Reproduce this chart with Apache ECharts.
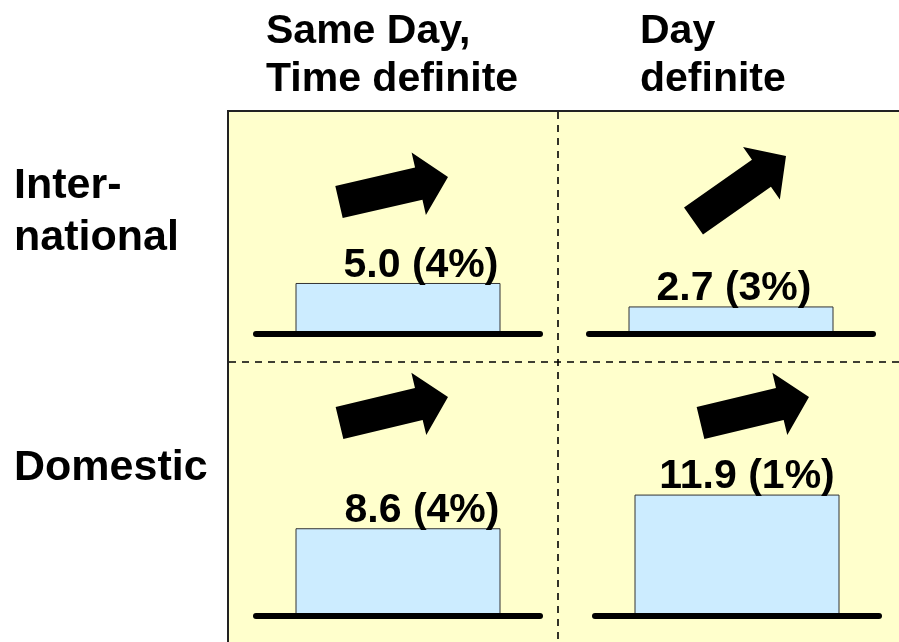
<!DOCTYPE html>
<html>
<head>
<meta charset="utf-8">
<script src="https://cdn.jsdelivr.net/npm/echarts@6/dist/echarts.min.js"></script>
<style>
html,body{margin:0;padding:0;background:#fff;}
#chart{width:899px;height:642px;}
</style>
</head>
<body>
<div id="chart"></div>
<script>
// ---- data ----
const columnLabels = ['Same Day,\nTime definite', 'Day\ndefinite'];
const rowLabels = ['Inter-\nnational', 'Domestic'];
const internationalVolume = [5.0, 2.7];
const internationalGrowth = ['4%', '3%'];
const domesticVolume = [8.6, 11.9];
const domesticGrowth = ['4%', '1%'];

// ---- layout ----
const FONT = '"Liberation Sans", Arial, sans-serif';
const FS = 41;
const ROW_FS = 43;
const YMAX = 19.6;
const GRID_H = 200;
const cells = [
  {row: 0, col: 0, left: 256, width: 284, base: 334, labelDx: 23},
  {row: 0, col: 1, left: 589, width: 284, base: 334, labelDx: 3},
  {row: 1, col: 0, left: 256, width: 284, base: 616, labelDx: 24},
  {row: 1, col: 1, left: 595, width: 284, base: 616, labelDx: 10}
];
const arrows = [
  {x: 339, y: 202, tx: 448, ty: 177},
  {x: 693.5, y: 221, tx: 786, ty: 156},
  {x: 339.5, y: 423, tx: 448, ty: 397},
  {x: 700.5, y: 423, tx: 809, ty: 397}
];

const volumes = [internationalVolume, domesticVolume];
const growths = [internationalGrowth, domesticGrowth];

function arrowPoints(a) {
  const dx = a.tx - a.x, dy = a.ty - a.y;
  const L = Math.sqrt(dx * dx + dy * dy);
  const ux = dx / L, uy = dy / L;
  const nx = -uy, ny = ux;
  const sw = 16.5, hw = 32, hl = 30;
  const bx = a.x + ux * (L - hl), by = a.y + uy * (L - hl);
  return [
    [a.x + nx * sw, a.y + ny * sw],
    [bx + nx * sw, by + ny * sw],
    [bx + nx * hw, by + ny * hw],
    [a.tx, a.ty],
    [bx - nx * hw, by - ny * hw],
    [bx - nx * sw, by - ny * sw],
    [a.x - nx * sw, a.y - ny * sw]
  ];
}

const grids = [], xAxes = [], yAxes = [], series = [];
cells.forEach(function (c, i) {
  grids.push({left: c.left, width: c.width, top: c.base - GRID_H, height: GRID_H});
  xAxes.push({
    type: 'category', gridIndex: i, data: [columnLabels[c.col]], z: 5,
    axisLine: {show: true, lineStyle: {color: '#000', width: 6, cap: 'round'}},
    axisTick: {show: false}, axisLabel: {show: false}, splitLine: {show: false}
  });
  yAxes.push({type: 'value', gridIndex: i, min: 0, max: YMAX, show: false});
  const v = volumes[c.row][c.col];
  const g = growths[c.row][c.col];
  series.push({
    type: 'bar', xAxisIndex: i, yAxisIndex: i, barWidth: 205,
    data: [v],
    itemStyle: {color: '#CCECFF', borderColor: '#333', borderWidth: 1},
    label: {
      show: true, position: 'top', distance: -3, offset: [c.labelDx, 0],
      formatter: function (p) { return p.value.toFixed(1) + ' (' + g + ')'; },
      fontFamily: FONT, fontSize: FS, fontWeight: 'bold', color: '#000'
    },
    silent: true
  });
});

const graphics = [
  {type: 'rect', shape: {x: 228, y: 111, width: 720, height: 600}, z: -100,
   style: {fill: '#FFFFCC', stroke: '#222', lineWidth: 2}},
  {type: 'line', shape: {x1: 558, y1: 112, x2: 558, y2: 642}, z: -50,
   style: {stroke: '#000', lineWidth: 1.6, lineDash: [7, 6]}},
  {type: 'line', shape: {x1: 229, y1: 362, x2: 899, y2: 362}, z: -50,
   style: {stroke: '#000', lineWidth: 1.6, lineDash: [7, 6]}},
  {type: 'text', left: 266, top: 8, style: {text: columnLabels[0], font: 'bold ' + FS + 'px ' + FONT, lineHeight: 48, fill: '#000'}},
  {type: 'text', left: 640, top: 8, style: {text: columnLabels[1], font: 'bold ' + FS + 'px ' + FONT, lineHeight: 48, fill: '#000'}},
  {type: 'text', left: 14, top: 160, style: {text: rowLabels[0], font: 'bold ' + ROW_FS + 'px ' + FONT, lineHeight: 52, fill: '#000'}},
  {type: 'text', left: 14, top: 442, style: {text: rowLabels[1], font: 'bold ' + ROW_FS + 'px ' + FONT, lineHeight: 52, fill: '#000'}}
];
arrows.forEach(function (a) {
  graphics.push({type: 'polygon', shape: {points: arrowPoints(a)}, z: 10, style: {fill: '#000'}});
});

const chart = echarts.init(document.getElementById('chart'), null, {renderer: 'canvas'});
chart.setOption({
  animation: false,
  backgroundColor: '#fff',
  grid: grids,
  xAxis: xAxes,
  yAxis: yAxes,
  series: series,
  graphic: graphics
});
</script>
</body>
</html>
